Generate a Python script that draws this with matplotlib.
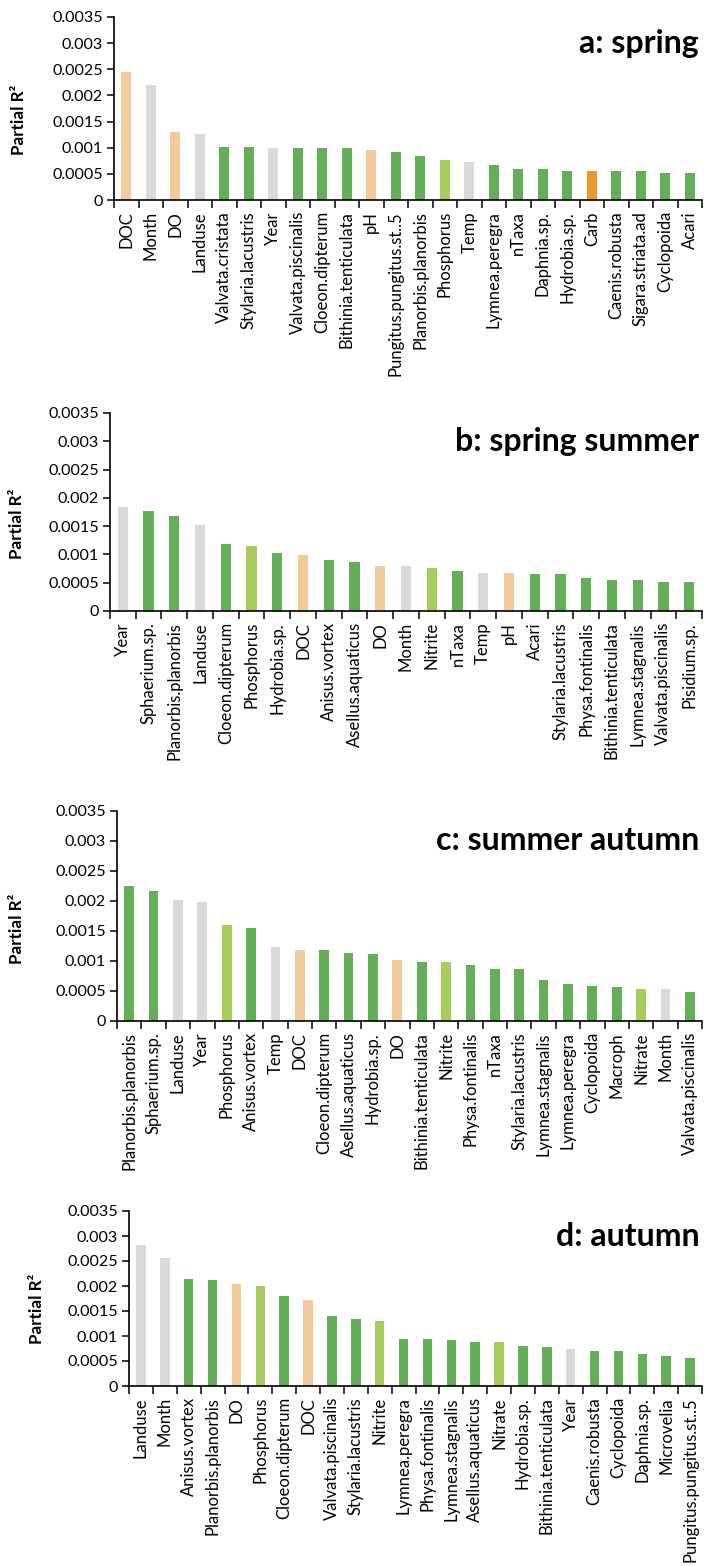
import matplotlib
matplotlib.use('Agg')
import numpy as np
import matplotlib.pyplot as plt
from matplotlib.transforms import blended_transform_factory

plt.rcParams['font.family'] = ['Lato', 'DejaVu Sans']

# colour groups: g = taxa, lg = nutrients, p = chemistry, gr = design, o = carbon
colours = {'g': '#63AE57', 'lg': '#A6CD5B', 'p': '#F3CB9B', 'gr': '#D9D9D9', 'o': '#E9992B'}

spring_labels = ['DOC', 'Month', 'DO', 'Landuse', 'Valvata.cristata', 'Stylaria.lacustris', 'Year',
                 'Valvata.piscinalis', 'Cloeon.dipterum', 'Bithinia.tenticulata', 'pH',
                 'Pungitus.pungitus.st..5', 'Planorbis.planorbis', 'Phosphorus', 'Temp',
                 'Lymnea.peregra', 'nTaxa', 'Daphnia.sp.', 'Hydrobia.sp.', 'Carb', 'Caenis.robusta',
                 'Sigara.striata.ad', 'Cyclopoida', 'Acari']
spring_values = [0.00244, 0.00219, 0.00130, 0.00127, 0.00102, 0.00102, 0.00099, 0.00099, 0.00099,
                 0.00099, 0.00095, 0.00091, 0.00084, 0.00076, 0.00073, 0.00066, 0.00060, 0.00060,
                 0.00056, 0.00056, 0.00056, 0.00056, 0.00052, 0.00052]
spring_groups = ['p', 'gr', 'p', 'gr', 'g', 'g', 'gr', 'g', 'g', 'g', 'p', 'g', 'g', 'lg', 'gr',
                 'g', 'g', 'g', 'g', 'o', 'g', 'g', 'g', 'g']

sprsum_labels = ['Year', 'Sphaerium.sp.', 'Planorbis.planorbis', 'Landuse', 'Cloeon.dipterum',
                 'Phosphorus', 'Hydrobia.sp.', 'DOC', 'Anisus.vortex', 'Asellus.aquaticus', 'DO',
                 'Month', 'Nitrite', 'nTaxa', 'Temp', 'pH', 'Acari', 'Stylaria.lacustris',
                 'Physa.fontinalis', 'Bithinia.tenticulata', 'Lymnea.stagnalis',
                 'Valvata.piscinalis', 'Pisidium.sp.']
sprsum_values = [0.00183, 0.00177, 0.00168, 0.00152, 0.00118, 0.00115, 0.00102, 0.00099, 0.00090,
                 0.00087, 0.00080, 0.00080, 0.00076, 0.00071, 0.00068, 0.00068, 0.00065, 0.00065,
                 0.00059, 0.00055, 0.00055, 0.00052, 0.00052]
sprsum_groups = ['gr', 'g', 'g', 'gr', 'g', 'lg', 'g', 'p', 'g', 'g', 'p', 'gr', 'lg', 'g', 'gr',
                 'p', 'g', 'g', 'g', 'g', 'g', 'g', 'g']

sumaut_labels = ['Planorbis.planorbis', 'Sphaerium.sp.', 'Landuse', 'Year', 'Phosphorus',
                 'Anisus.vortex', 'Temp', 'DOC', 'Cloeon.dipterum', 'Asellus.aquaticus',
                 'Hydrobia.sp.', 'DO', 'Bithinia.tenticulata', 'Nitrite', 'Physa.fontinalis',
                 'nTaxa', 'Stylaria.lacustris', 'Lymnea.stagnalis', 'Lymnea.peregra', 'Cyclopoida',
                 'Macroph', 'Nitrate', 'Month', 'Valvata.piscinalis']
sumaut_values = [0.00225, 0.00216, 0.00201, 0.00198, 0.00160, 0.00155, 0.00124, 0.00118, 0.00118,
                 0.00114, 0.00112, 0.00102, 0.00099, 0.00099, 0.00093, 0.00087, 0.00087, 0.00068,
                 0.00062, 0.00059, 0.00056, 0.00053, 0.00053, 0.00049]
sumaut_groups = ['g', 'g', 'gr', 'gr', 'lg', 'g', 'gr', 'p', 'g', 'g', 'g', 'p', 'g', 'lg', 'g',
                 'g', 'g', 'g', 'g', 'g', 'g', 'lg', 'gr', 'g']

autumn_labels = ['Landuse', 'Month', 'Anisus.vortex', 'Planorbis.planorbis', 'DO', 'Phosphorus',
                 'Cloeon.dipterum', 'DOC', 'Valvata.piscinalis', 'Stylaria.lacustris', 'Nitrite',
                 'Lymnea.peregra', 'Physa.fontinalis', 'Lymnea.stagnalis', 'Asellus.aquaticus',
                 'Nitrate', 'Hydrobia.sp.', 'Bithinia.tenticulata', 'Year', 'Caenis.robusta',
                 'Cyclopoida', 'Daphnia.sp.', 'Microvelia', 'Pungitus.pungitus.st..5']
autumn_values = [0.00282, 0.00257, 0.00214, 0.00212, 0.00205, 0.00201, 0.00180, 0.00173, 0.00141,
                 0.00134, 0.00130, 0.00095, 0.00095, 0.00092, 0.00088, 0.00088, 0.00081, 0.00078,
                 0.00074, 0.00070, 0.00070, 0.00064, 0.00060, 0.00057]
autumn_groups = ['gr', 'gr', 'g', 'g', 'p', 'lg', 'g', 'p', 'g', 'g', 'lg', 'g', 'g', 'g', 'g',
                 'lg', 'g', 'g', 'gr', 'g', 'g', 'g', 'g', 'g']

y_ticks = [0, 0.0005, 0.001, 0.0015, 0.002, 0.0025, 0.003, 0.0035]
y_tick_labels = ['0', '0.0005', '0.001', '0.0015', '0.002', '0.0025', '0.003', '0.0035']

W, H = 704, 1566
fig = plt.figure(figsize=(W / 100, H / 100), dpi=100)


def panel(left, top, bottom, labels, values, groups, title, ylab_x):
    right = 702
    ax = fig.add_axes([left / W, 1 - bottom / H, (right - left) / W, (bottom - top) / H])
    x = np.arange(len(values))
    ax.bar(x, values, width=0.4, color=[colours[g] for g in groups])
    ax.set_xlim(-0.5, len(values) - 0.5)
    ax.set_ylim(0, 0.0035)
    ax.set_yticks(y_ticks)
    ax.set_yticklabels(y_tick_labels, fontsize=11.6)
    ax.set_xticks(x)
    ax.set_xticklabels(labels, rotation=90, fontsize=12)
    ax.set_xticks(np.arange(len(values) + 1) - 0.5, minor=True)
    ax.tick_params(axis='x', which='major', length=0, pad=8)
    ax.tick_params(axis='x', which='minor', length=6, width=1.1, direction='out')
    ax.tick_params(axis='y', length=5, width=1.1, direction='out', pad=3)
    for s in ['top', 'right']:
        ax.spines[s].set_visible(False)
    for s in ['left', 'bottom']:
        ax.spines[s].set_linewidth(1.2)
    ax.set_ylabel('Partial R²', fontsize=12.3, fontweight='bold')
    ax.yaxis.set_label_coords((ylab_x - left) / (right - left), 0.44)
    tr = blended_transform_factory(ax.transAxes, ax.transData)
    ax.text(0.995, 0.003, title, transform=tr, ha='right', va='center',
            fontsize=23, fontweight='bold')
    return ax


panel(114, 17, 200, spring_labels, spring_values, spring_groups, 'a: spring', 27)
panel(110, 413, 611, sprsum_labels, sprsum_values, sprsum_groups, 'b: spring summer', 25)
panel(117, 811, 1021, sumaut_labels, sumaut_values, sumaut_groups, 'c: summer autumn', 25)
panel(129, 1211, 1386, autumn_labels, autumn_values, autumn_groups, 'd: autumn', 45)

fig.savefig('out.png', dpi=100)
